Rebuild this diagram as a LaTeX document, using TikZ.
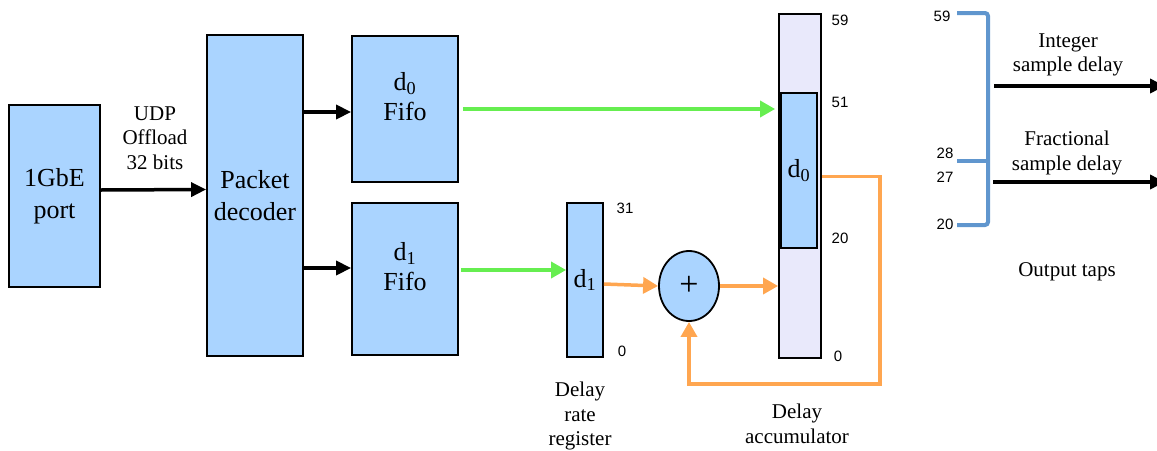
\documentclass[tikz,border=0pt]{standalone}
\usepackage{fontspec}
\setmainfont{Liberation Serif}
\newfontfamily\numfont{Liberation Sans}
\usetikzlibrary{arrows.meta,shapes.geometric}
\definecolor{boxblue}{RGB}{170,212,255}
\definecolor{accfill}{RGB}{233,233,251}
\definecolor{flowgreen}{RGB}{102,238,80}
\definecolor{floworange}{RGB}{255,166,80}
\definecolor{tapblue}{RGB}{96,150,206}
\tikzset{>/.tip={Triangle[length=15pt,width=14pt]},
  block/.style={draw, line width=1.8pt, fill=boxblue, inner sep=0pt, align=center,
    font=\fontsize{26}{32}\selectfont},
  bigtext/.style={align=center, font=\fontsize{26}{30}\selectfont},
  midtext/.style={align=center, font=\fontsize{21}{24.5}\selectfont},
  bitnum/.style={font=\numfont\fontsize{15}{18}\selectfont},
  blackarrow/.style={->, line width=3.5pt},
  greenarrow/.style={->, line width=3.5pt, draw=flowgreen, >={Triangle[length=15pt,width=16pt]}},
  orangearrow/.style={->, line width=3.5pt, draw=floworange, >={Triangle[length=15pt,width=16pt]}},
  bracket/.style={line width=4pt, draw=tapblue, rounded corners=3pt}}

\begin{document}
\begin{tikzpicture}[x=1pt,y=-1pt]
\useasboundingbox (0,0) rectangle (1157,450);
% blocks
\node[block, minimum width=91pt, minimum height=182pt] (port) at (54.5,196) {1GbE\\port};
\node[block, minimum width=96pt, minimum height=321pt] (decoder) at (255,195.5) {Packet\\decoder};
\node[block, minimum width=106pt, minimum height=146pt] (fifo0) at (405,109) {};
\node[block, minimum width=106pt, minimum height=152pt] (fifo1) at (405,279) {};
\node[bigtext] (fifo0text) at ([yshift=12pt]fifo0.center) {d\textsubscript{0}\\Fifo};
\node[bigtext] (fifo1text) at ([yshift=12pt]fifo1.center) {d\textsubscript{1}\\Fifo};
\node[block, minimum width=36pt, minimum height=154pt] (rate) at (585,280) {d\textsubscript{1}};
\node[block, ellipse, minimum width=60pt, minimum height=70pt, font=\fontsize{34}{34}\selectfont] (adder) at (689,286) {+};
\node[block, fill=accfill, minimum width=42pt, minimum height=344pt] (acc) at (800,186) {};
\node[block, minimum width=36pt, minimum height=155pt] (accd0) at (799,170.5) {d\textsubscript{0}};

% labels
\node[midtext] (udp) at (155,138) {UDP\\Offload\\32 bits};
\node[midtext] (ratelabel) at (580,416) {Delay\\rate\\register};
\node[midtext] (acclabel) at (797,424) {Delay\\accumulator};
\node[bitnum] (rate31) at (625,208) {31};
\node[bitnum] (rate0) at (622,351) {0};
\node[bitnum] (acc59) at (840,20) {59};
\node[bitnum] (acc51) at (840,102) {51};
\node[bitnum] (acc20) at (840,238) {20};
\node[bitnum] (acc0) at (838,356) {0};

% connectors
\draw[blackarrow] ([yshift=6pt]port.east) -- ([yshift=6pt]decoder.west);
\draw[blackarrow] ([yshift=-3pt]fifo0.west -| decoder.east) -- ([yshift=-3pt]fifo0.west);
\draw[blackarrow] ([yshift=11pt]fifo1.west -| decoder.east) -- ([yshift=11pt]fifo1.west);
\draw[greenarrow, shorten <=4pt, shorten >=3pt] (fifo0.east) -- (fifo0.east -| acc.west);
\draw[greenarrow, shorten <=2pt] ([yshift=10pt]rate.west -| fifo1.east) -- ([yshift=10pt]rate.west);
\draw[orangearrow] ([yshift=-4pt]rate.east) -- (adder.west);
\draw[orangearrow] (adder.east) -- (adder.east -| acc.west);
\coordinate (fbturn) at (880,384);
\draw[orangearrow] ([yshift=-6pt]accd0.east -| acc.east) -| (fbturn) -| (adder.south);

% output taps
\draw[bracket] (957,13) -- (988,13) -- (988,225) -- (957,225);
\draw[bracket] (957,161) -- (988,161);
\node[bitnum] (tap59) at (942,16) {59};
\node[bitnum] (tap28) at (945,153) {28};
\node[bitnum] (tap27) at (945,177) {27};
\node[bitnum] (tap20) at (945,224) {20};
\coordinate (intin) at (994,86);
\coordinate (intout) at (1165,86);
\coordinate (fracin) at (993,182);
\coordinate (fracout) at (1165,182);
\draw[blackarrow] (intin) -- (intout);
\draw[blackarrow] (fracin) -- (fracout);
\node[midtext] (intlabel) at (1068,55) {Integer\\sample delay};
\node[midtext] (fraclabel) at (1067,153) {Fractional\\sample delay};
\node[midtext] (taplabel) at (1067,272) {Output taps};
\end{tikzpicture}
\end{document}
